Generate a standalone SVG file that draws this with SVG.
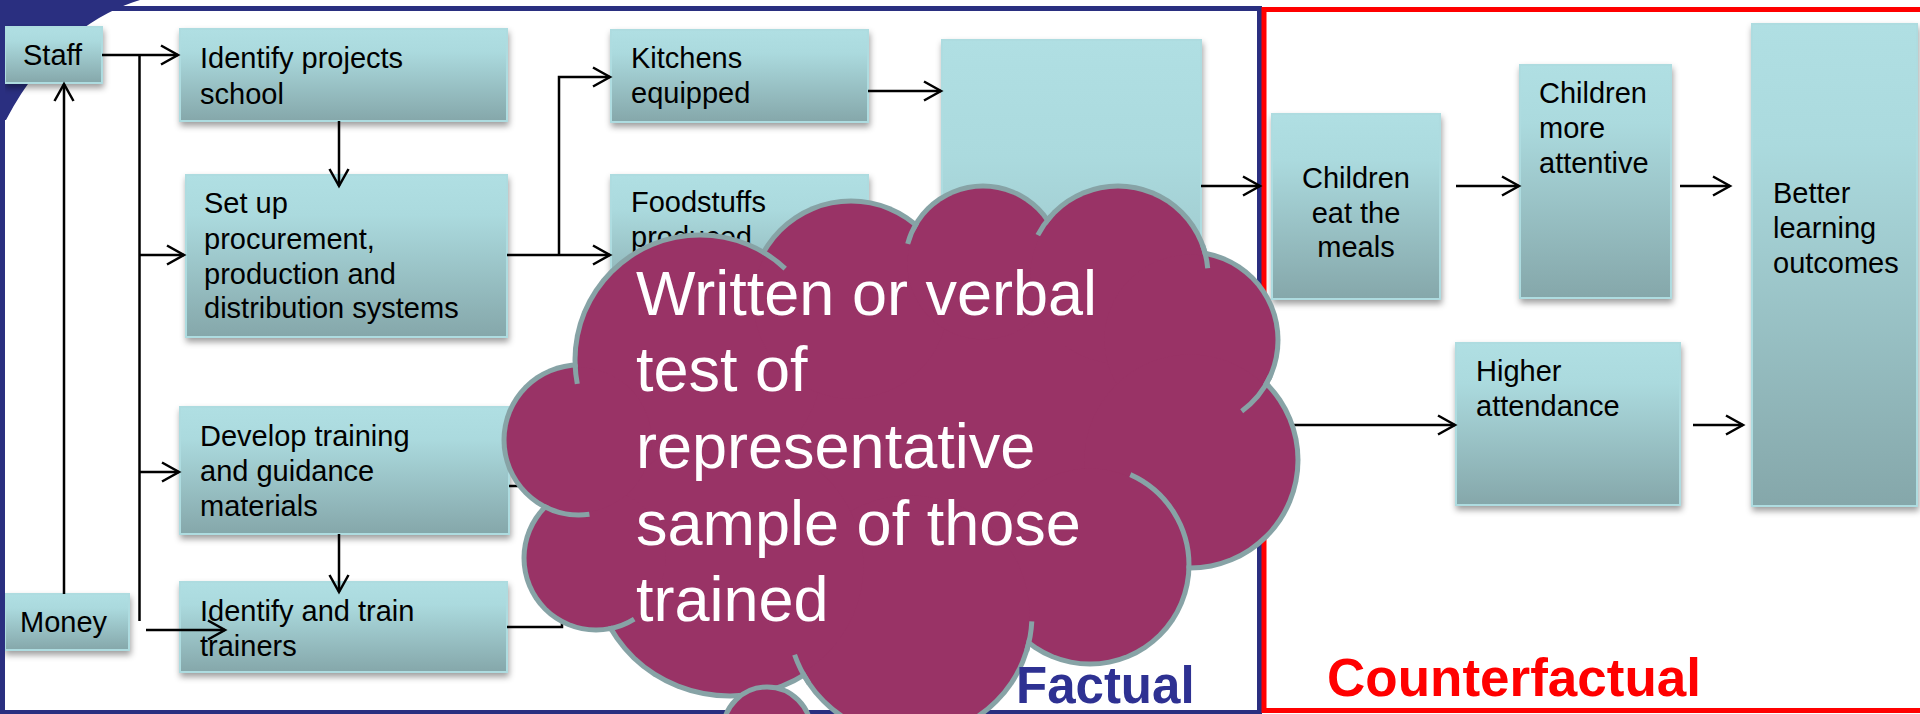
<svg xmlns="http://www.w3.org/2000/svg" width="1920" height="714" viewBox="0 0 1920 714">
  <defs>
    <linearGradient id="boxfill" x1="0" y1="0" x2="0" y2="1">
      <stop offset="0" stop-color="#B0DFE3"/>
      <stop offset="0.25" stop-color="#ABDADE"/>
      <stop offset="1" stop-color="#85A7AA"/>
    </linearGradient>
    <filter id="shadow" x="-10%" y="-10%" width="125%" height="130%">
      <feDropShadow dx="1" dy="4" stdDeviation="3" flood-color="#000" flood-opacity="0.38"/>
    </filter>
    <marker id="ah" markerUnits="userSpaceOnUse" viewBox="-22 -13 25 26" refX="0" refY="0" markerWidth="25" markerHeight="26" orient="auto">
      <path d="M-17,-9.5 L0,0 L-17,9.5" fill="none" stroke="#000" stroke-width="2.5"/>
    </marker>
    <style>
      .box { fill: url(#boxfill); stroke: #AEDCE0; stroke-width: 2; filter: url(#shadow); }
      .t { font-family: "Liberation Sans", Arial, sans-serif; font-size: 29px; fill: #000; }
      .c { fill: none; stroke: #000; stroke-width: 2.5; }
      .arr { marker-end: url(#ah); }
      .edge { fill: #87A3A6; }
      .body { fill: #993366; }
      .inner { fill: none; stroke: #87A3A6; stroke-width: 5; }
      .ct { font-family: "Liberation Sans", Arial, sans-serif; font-size: 63px; fill: #fff; }
      .lbl { font-family: "Liberation Sans", Arial, sans-serif; font-weight: bold; }
    </style>
  </defs>

  <rect x="0" y="0" width="1920" height="714" fill="#fff"/>

  <!-- corner swoosh of the slide background -->
  <path d="M0,0 H140 C100,12 45,45 6,120 H0 Z" fill="#2A2F80"/>

  <!-- process boxes -->
  <g id="staff">
    <rect class="box" x="5" y="27" width="97" height="56"/>
    <text class="t" x="23" y="65">Staff</text>
  </g>
  <g id="money">
    <rect class="box" x="5" y="594" width="124" height="56"/>
    <text class="t" x="20" y="632">Money</text>
  </g>
  <g id="identify-projects">
    <rect class="box" x="180" y="29" width="327" height="92"/>
    <text class="t" x="200" y="68">Identify projects<tspan x="200" y="104">school</tspan></text>
  </g>
  <g id="setup-systems">
    <rect class="box" x="186" y="175" width="321" height="162"/>
    <text class="t" x="204" y="213">Set up<tspan x="204" y="249">procurement,</tspan><tspan x="204" y="284">production and</tspan><tspan x="204" y="318">distribution systems</tspan></text>
  </g>
  <g id="develop-materials">
    <rect class="box" x="180" y="407" width="329" height="127"/>
    <text class="t" x="200" y="446">Develop training<tspan x="200" y="481">and guidance</tspan><tspan x="200" y="516">materials</tspan></text>
  </g>
  <g id="train-trainers">
    <rect class="box" x="180" y="582" width="327" height="90"/>
    <text class="t" x="200" y="621">Identify and train<tspan x="200" y="656">trainers</tspan></text>
  </g>
  <g id="kitchens">
    <rect class="box" x="611" y="30" width="257" height="92"/>
    <text class="t" x="631" y="68">Kitchens<tspan x="631" y="103">equipped</tspan></text>
  </g>
  <g id="foodstuffs">
    <rect class="box" x="611" y="175" width="257" height="135"/>
    <text class="t" x="631" y="212">Foodstuffs<tspan x="631" y="247">produced</tspan></text>
  </g>
  <g id="meals">
    <rect class="box" x="942" y="40" width="259" height="466"/>
  </g>
  <g id="eat-meals">
    <rect class="box" x="1272" y="114" width="168" height="185"/>
    <text class="t" x="1356" y="188" text-anchor="middle">Children<tspan x="1356" y="223">eat the</tspan><tspan x="1356" y="257">meals</tspan></text>
  </g>
  <g id="attentive">
    <rect class="box" x="1520" y="65" width="151" height="233"/>
    <text class="t" x="1539" y="103">Children<tspan x="1539" y="138">more</tspan><tspan x="1539" y="173">attentive</tspan></text>
  </g>
  <g id="attendance">
    <rect class="box" x="1456" y="343" width="224" height="162"/>
    <text class="t" x="1476" y="381">Higher<tspan x="1476" y="416">attendance</tspan></text>
  </g>
  <g id="outcomes">
    <rect class="box" x="1752" y="24" width="165" height="482"/>
    <text class="t" x="1773" y="203">Better<tspan x="1773" y="238">learning</tspan><tspan x="1773" y="273">outcomes</tspan></text>
  </g>

  <!-- frames -->
  <g id="frames">
    <rect x="2.5" y="8.5" width="1257" height="704" fill="none" stroke="#2A2F80" stroke-width="5"/>
    <rect x="1264" y="9.5" width="1653.5" height="701" fill="none" stroke="#FF0000" stroke-width="5"/>
  </g>

  <!-- connectors -->
  <g id="connectors">
    <path class="c arr" d="M102,55 H178"/>
    <path class="c" d="M139.5,55 V621"/>
    <path class="c arr" d="M139.5,255 H184"/>
    <path class="c arr" d="M139.5,472 H179"/>
    <path class="c arr" d="M64,594 V84"/>
    <path class="c arr" d="M146,630 H225"/>
    <path class="c arr" d="M339,121 V186"/>
    <path class="c arr" d="M339,534 V592"/>
    <path class="c arr" d="M507,255 H610"/>
    <path class="c arr" d="M559,255 V77 H610"/>
    <path class="c" d="M509,486 H562"/>
    <path class="c" d="M507,627 H562 V486"/>
    <path class="c arr" d="M868,91 H941"/>
    <path class="c arr" d="M1201,186 H1260"/>
    <path class="c arr" d="M1456,186 H1519"/>
    <path class="c arr" d="M1680,186 H1730"/>
    <path class="c arr" d="M1201,425 H1455"/>
    <path class="c arr" d="M1693,425 H1743"/>
  </g>

  <!-- thought cloud -->
  <g id="cloud">
    <g class="edge">
      <circle cx="700" cy="360" r="127.5"/>
      <circle cx="851" cy="301" r="102.5"/>
      <circle cx="983" cy="264" r="80.5"/>
      <circle cx="1118" cy="276" r="92.5"/>
      <circle cx="1190" cy="340" r="90.5"/>
      <circle cx="1190" cy="460" r="110.5"/>
      <circle cx="1090" cy="565" r="101.5"/>
      <circle cx="910" cy="615" r="124.5"/>
      <ellipse cx="730" cy="566" rx="138.5" ry="132.5"/>
      <circle cx="596" cy="558" r="74.5"/>
      <circle cx="579" cy="440" r="77.5"/>
    </g>
    <g class="body">
      <polygon points="700,360 851,301 983,264 1118,276 1190,340 1190,460 1090,565 910,615 730,566 596,558 579,440"/>
      <circle cx="700" cy="360" r="122.5"/>
      <circle cx="851" cy="301" r="97.5"/>
      <circle cx="983" cy="264" r="75.5"/>
      <circle cx="1118" cy="276" r="87.5"/>
      <circle cx="1190" cy="340" r="85.5"/>
      <circle cx="1190" cy="460" r="105.5"/>
      <circle cx="1090" cy="565" r="96.5"/>
      <circle cx="910" cy="615" r="119.5"/>
      <ellipse cx="730" cy="566" rx="133.5" ry="127.5"/>
      <circle cx="596" cy="558" r="69.5"/>
      <circle cx="579" cy="440" r="72.5"/>
    </g>
    <g class="inner">
      <path d="M575.1,364.4 A125,125 0 0 0 577.3,383.9"/>
      <path d="M762.5,251.7 A125,125 0 0 1 785.2,268.6"/>
      <path d="M907.7,243.8 A78,78 0 0 1 916.9,222.7"/>
      <path d="M1037.8,235.1 A90,90 0 0 1 1051.1,215.8"/>
      <path d="M1202.6,245.2 A90,90 0 0 1 1207.7,268.2"/>
      <path d="M1270.4,375.8 A88,88 0 0 1 1241.7,411.2"/>
      <path d="M1130.3,474.6 A99,99 0 0 1 1188.9,568.5"/>
      <path d="M1031.8,621.4 A122,122 0 0 1 1026.7,650.7"/>
      <path d="M794.6,654.7 A122,122 0 0 0 808.9,683.2"/>
      <path d="M608.5,628.9 A72,72 0 0 0 634.2,619.1"/>
      <path d="M543.8,506.2 A75,75 0 0 0 589.4,514.3"/>
    </g>
    <circle cx="767" cy="731" r="44" fill="#993366" stroke="#87A3A6" stroke-width="5"/>
    <text class="ct" x="636" y="314.5">Written or verbal<tspan x="636" y="391">test of</tspan><tspan x="636" y="468">representative</tspan><tspan x="636" y="544.5">sample of those</tspan><tspan x="636" y="621">trained</tspan></text>
  </g>

  <!-- area labels -->
  <text class="lbl" x="1016" y="703" font-size="51" fill="#2E3192">Factual</text>
  <text class="lbl" x="1327" y="696" font-size="53" fill="#FF0000">Counterfactual</text>
</svg>
